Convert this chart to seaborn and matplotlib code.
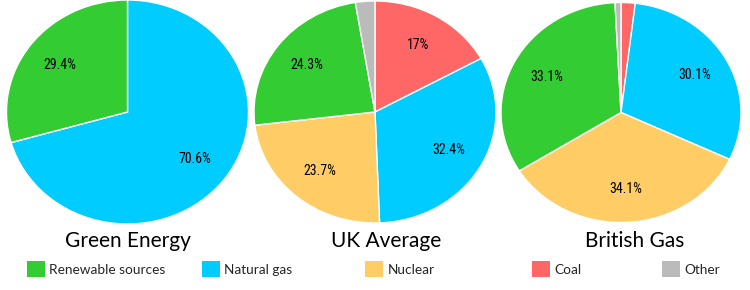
import matplotlib
matplotlib.use("Agg")
import matplotlib.pyplot as plt
import matplotlib.patches as mpatches
from matplotlib import font_manager
import numpy as np
import seaborn as sns

sns.set_theme(style="white")
plt.rcParams["font.family"] = ["Lato", "DejaVu Sans"]

# ---- data ----
categories = ["Renewable sources", "Natural gas", "Nuclear", "Coal", "Other"]
colors_hex = ["#33CC33", "#00CCFF", "#FFCC66", "#FF6666", "#BBBBBB"]
chart_titles = ["Green Energy", "UK Average", "British Gas"]
green_energy = [29.4, 70.6, 0.0, 0.0, 0.0]
uk_average = [24.3, 32.4, 23.7, 17.0, 2.6]
british_gas = [33.1, 30.1, 34.1, 1.9, 0.8]
series = [green_energy, uk_average, british_gas]
# clockwise order of slices, starting at 12 o'clock
pie_order = [3, 1, 2, 0, 4]

palette = sns.color_palette(colors_hex)

# pick a narrow font for the slice labels if one is available
names = {f.name for f in font_manager.fontManager.ttflist}
narrow = [n for n in ["Liberation Sans Narrow", "Roboto Condensed", "Open Sans Condensed",
                      "DejaVu Sans Condensed"] if n in names]
label_family = narrow + ["DejaVu Sans"]

W, H = 750, 290
fig = plt.figure(figsize=(W / 100, H / 100), dpi=100)

# layout (pixels): centre x, centre y, radius x, radius y
layout = [(127.5, 112, 121, 112), (375, 112, 121, 111), (621, 112.5, 120, 110)]
title_x = [127.5, 386, 635]
title_y = 247

for vals, (cx, cy, rx, ry), title, tx in zip(series, layout, chart_titles, title_x):
    ax = fig.add_axes([(cx - rx) / W, 1 - (cy + ry) / H, 2 * rx / W, 2 * ry / H])
    idx = [i for i in pie_order if vals[i] > 0]
    v = [vals[i] for i in idx]
    c = [palette[i] for i in idx]
    texts = [f"{vals[i]:g}%" if vals[i] >= 5 else "" for i in idx]
    wedges, _ = ax.pie(v, colors=c, startangle=90, counterclock=False,
                       wedgeprops=dict(edgecolor="white", linewidth=1.0))
    for w, t in zip(wedges, texts):
        if not t:
            continue
        ang = np.deg2rad((w.theta1 + w.theta2) / 2)
        ax.text(0.7 * np.cos(ang), 0.7 * np.sin(ang), t, ha="center", va="center",
                fontsize=10, color="black", family=label_family,
                fontstretch="condensed")
    ax.set_aspect("auto")
    ax.set_xlim(-1, 1)
    ax.set_ylim(-1, 1)
    ax.axis("off")
    fig.text(tx / W, 1 - title_y / H, title, ha="center", va="baseline",
             fontsize=15, color="black")

# legend items
legend_x = [27, 202, 365, 532, 662]
legend_y = 269
for name, col, lx in zip(categories, palette, legend_x):
    h = mpatches.Patch(facecolor=col, edgecolor="none", label=name)
    fig.legend(handles=[h], loc="center left",
               bbox_to_anchor=(lx / W, 1 - legend_y / H), frameon=False,
               handlelength=1.35, handleheight=1.35, handletextpad=0.3,
               borderpad=0, borderaxespad=0, fontsize=9.8)

fig.savefig("out.png", dpi=100)
